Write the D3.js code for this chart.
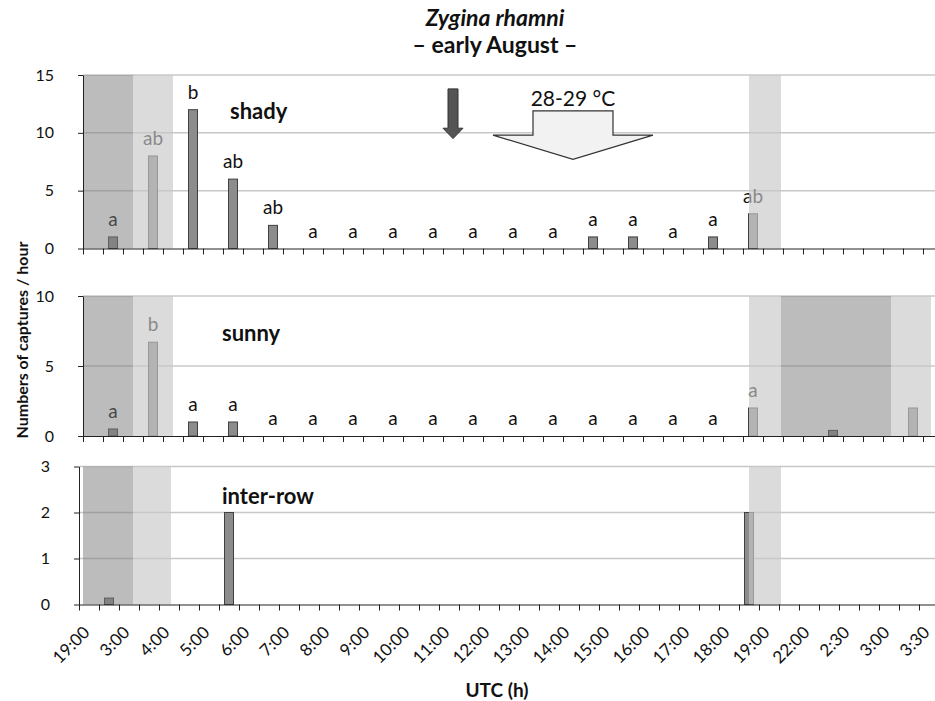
<!DOCTYPE html>
<html>
<head>
<meta charset="utf-8">
<script src="https://cdn.jsdelivr.net/npm/d3@7"></script>
<style>
  body { margin: 0; background: #fff; }
  text { font-family: Lato, "Open Sans", sans-serif; fill: #111; }
</style>
</head>
<body>
<svg id="chart" width="935" height="701"></svg>
<script>
// time boundaries shown on the x axis (each bar = interval between two labels)
const timeLabels = ["19:00", "3:00", "4:00", "5:00", "6:00", "7:00", "8:00", "9:00", "10:00", "11:00",
    "12:00", "13:00", "14:00", "15:00", "16:00", "17:00", "18:00", "19:00", "22:00", "2:30", "3:00", "3:30"];

// captures per hour, one value per interval (21 intervals)
const shadyValues = [1, 8, 12, 6, 2, 0, 0, 0, 0, 0, 0, 0, 1, 1, 0, 1, 3, null, null, null, null];
const shadyLetters = ["a", "ab", "b", "ab", "ab", "a", "a", "a", "a", "a", "a", "a", "a", "a", "a", "a", "ab", null, null, null, null];

const sunnyValues = [0.5, 6.7, 1, 1, 0, 0, 0, 0, 0, 0, 0, 0, 0, 0, 0, 0, 2, 0, 0.4, 0, 2];
const sunnyLetters = ["a", "b", "a", "a", "a", "a", "a", "a", "a", "a", "a", "a", "a", "a", "a", "a", "a", null, null, null, null];

const interRowValues = [0.14, 0, 0, 2, 0, 0, 0, 0, 0, 0, 0, 0, 0, 0, 0, 0, 2, 0, 0, 0, 0];
const interRowLetters = [];

// night (dark) and twilight (light) periods, in units of x label index
const shadyShading = [{ from: -0.25, to: 1, tone: "night" }, { from: 1, to: 2, tone: "twilight" }, { from: 16.4, to: 17.2, tone: "twilight" }];
const sunnyShading = [{ from: -0.25, to: 1, tone: "night" }, { from: 1, to: 2, tone: "twilight" }, { from: 16.4, to: 17.2, tone: "twilight" },
    { from: 17.2, to: 19.95, tone: "night" }, { from: 19.95, to: 20.95, tone: "twilight" }];
const interRowShading = [{ from: -0.25, to: 1, tone: "night" }, { from: 1, to: 1.95, tone: "twilight" }, { from: 16.4, to: 17.2, tone: "twilight" }];

const svg = d3.select("#chart");
const slotWidth = 20;
const nSlots = timeLabels.length * 2 - 1;   // label slots and bar slots alternate

const panels = [
    { name: "shady", values: shadyValues, letters: shadyLetters, shading: shadyShading, yTicks: [0, 5, 10, 15],
      top: 75, bottom: 248.5, left: 83, labelX: 230, labelY: 119 },
    { name: "sunny", values: sunnyValues, letters: sunnyLetters, shading: sunnyShading, yTicks: [0, 5, 10],
      top: 296, bottom: 436, left: 83, labelX: 222, labelY: 341 },
    { name: "inter-row", values: interRowValues, letters: interRowLetters, shading: interRowShading, yTicks: [0, 1, 2, 3],
      top: 466.5, bottom: 604.5, left: 79, labelX: 222, labelY: 504 }
];

// shading is placed with the top panel's x positions
const shadeX = d3.scaleLinear().domain([0, timeLabels.length - 1]).range([83 + 10, 83 + 10 + 40 * (timeLabels.length - 1)]);
const shadeStyle = { night: { fill: "#7a7a7a", opacity: 0.5 }, twilight: { fill: "#c8c8c8", opacity: 0.65 } };

panels.forEach((p) => {
    const g = svg.append("g");
    const right = p.left + nSlots * slotWidth;

    const xSlot = d3.scaleBand().domain(d3.range(nSlots)).range([p.left, right]);
    const xEdge = d3.scaleLinear().domain([0, nSlots]).range([p.left, right]);
    const y = d3.scaleLinear().domain([0, d3.max(p.yTicks)]).range([p.bottom, p.top]);
    p.x = xSlot; p.y = y;

    // gridlines
    g.selectAll("line.grid")
        .data(p.yTicks.filter(t => t > 0))
        .join("line")
        .attr("x1", p.left).attr("x2", right)
        .attr("y1", d => y(d)).attr("y2", d => y(d))
        .attr("stroke", "#c8c8c8").attr("stroke-width", 1.5);

    const bars = p.values.map((v, k) => ({ k, v, letter: p.letters[k] }));
    const barW = 9;
    const cx = k => xSlot(2 * k + 1) + xSlot.bandwidth() / 2;

    g.selectAll("rect.bar")
        .data(bars.filter(d => d.v > 0))
        .join("rect")
        .attr("x", d => cx(d.k) - barW / 2)
        .attr("y", d => y(d.v))
        .attr("width", barW)
        .attr("height", d => y(0) - y(d.v))
        .attr("fill", "#8c8c8c")
        .attr("stroke", "#404040")
        .attr("stroke-width", 1);

    g.selectAll("text.letter")
        .data(bars.filter(d => d.letter))
        .join("text")
        .attr("x", d => cx(d.k))
        .attr("y", d => y(d.v || 0) - 11)
        .attr("text-anchor", "middle")
        .style("font-size", "19px")
        .text(d => d.letter);

    // night / twilight overlays
    g.selectAll("rect.shade")
        .data(p.shading)
        .join("rect")
        .attr("x", d => Math.max(p.left, shadeX(d.from)))
        .attr("y", p.top)
        .attr("width", d => shadeX(d.to) - Math.max(p.left, shadeX(d.from)))
        .attr("height", p.bottom - p.top)
        .attr("fill", d => shadeStyle[d.tone].fill)
        .attr("opacity", d => shadeStyle[d.tone].opacity);

    g.append("text")
        .attr("x", p.labelX)
        .attr("y", p.labelY)
        .style("font-size", "22px")
        .style("font-weight", "bold")
        .text(p.name);

    // axes
    const yAxis = g.append("g")
        .attr("transform", `translate(${p.left},0)`)
        .call(d3.axisLeft(y).tickValues(p.yTicks).tickFormat(d3.format("d"))
            .tickSize(5).tickSizeOuter(0).tickPadding(24));
    yAxis.selectAll("text").style("font-size", "16px");

    g.append("g")
        .attr("transform", `translate(0,${y(0)})`)
        .call(d3.axisBottom(xEdge).tickValues(d3.range(nSlots + 1)).tickSize(6).tickSizeOuter(0).tickFormat(""));

    g.selectAll(".domain, .tick line").attr("stroke", "#222");
});

// rotated time labels under the bottom panel
const bottomPanel = panels[2];
svg.append("g").selectAll("text")
    .data(timeLabels)
    .join("text")
    .attr("transform", (d, i) => `translate(${bottomPanel.x(2 * i) + bottomPanel.x.bandwidth() / 2 - 2},630) rotate(-45)`)
    .attr("text-anchor", "end")
    .attr("dy", "0.3em")
    .style("font-size", "17px")
    .text(d => d);

// arrows in the shady panel
const topPanel = panels[0];
const bx = i => topPanel.x(2 * i) + topPanel.x.bandwidth() / 2;
const ty = topPanel.y;

const smallArrow = [[bx(9) - 5, ty(13.8)], [bx(9) + 5, ty(13.8)], [bx(9) + 5, ty(10.4)], [bx(9) + 10, ty(10.4)],
    [bx(9), ty(9.5)], [bx(9) - 10, ty(10.4)], [bx(9) - 5, ty(10.4)]];
svg.append("path")
    .attr("d", d3.line()(smallArrow) + "Z")
    .attr("fill", "#555").attr("stroke", "#333").attr("stroke-width", 1);

const bigArrow = [[bx(11), ty(11.9)], [bx(13), ty(11.9)], [bx(13), ty(9.8)], [bx(14), ty(9.8)],
    [bx(12), ty(7.7)], [bx(10), ty(9.8)], [bx(11), ty(9.8)]];
svg.append("path")
    .attr("d", d3.line()(bigArrow) + "Z")
    .attr("fill", "#f2f2f2").attr("stroke", "#333").attr("stroke-width", 1.2);

svg.append("text")
    .attr("x", bx(12)).attr("y", ty(12.3))
    .attr("text-anchor", "middle")
    .style("font-size", "21px")
    .text("28-29 °C");

// titles
svg.append("text")
    .attr("x", 495).attr("y", 26)
    .attr("text-anchor", "middle")
    .style("font-size", "23px").style("font-weight", "bold").style("font-style", "italic")
    .text("Zygina rhamni");
svg.append("text")
    .attr("x", 495).attr("y", 53)
    .attr("text-anchor", "middle")
    .style("font-size", "23px").style("font-weight", "bold")
    .text("– early August –");

svg.append("text")
    .attr("x", 497).attr("y", 697)
    .attr("text-anchor", "middle")
    .style("font-size", "19px").style("font-weight", "bold")
    .text("UTC (h)");

svg.append("text")
    .attr("transform", "translate(22,340) rotate(-90)")
    .attr("text-anchor", "middle")
    .attr("dy", "0.35em")
    .style("font-size", "16px").style("font-weight", "bold")
    .text("Numbers of captures / hour");
</script>
</body>
</html>
